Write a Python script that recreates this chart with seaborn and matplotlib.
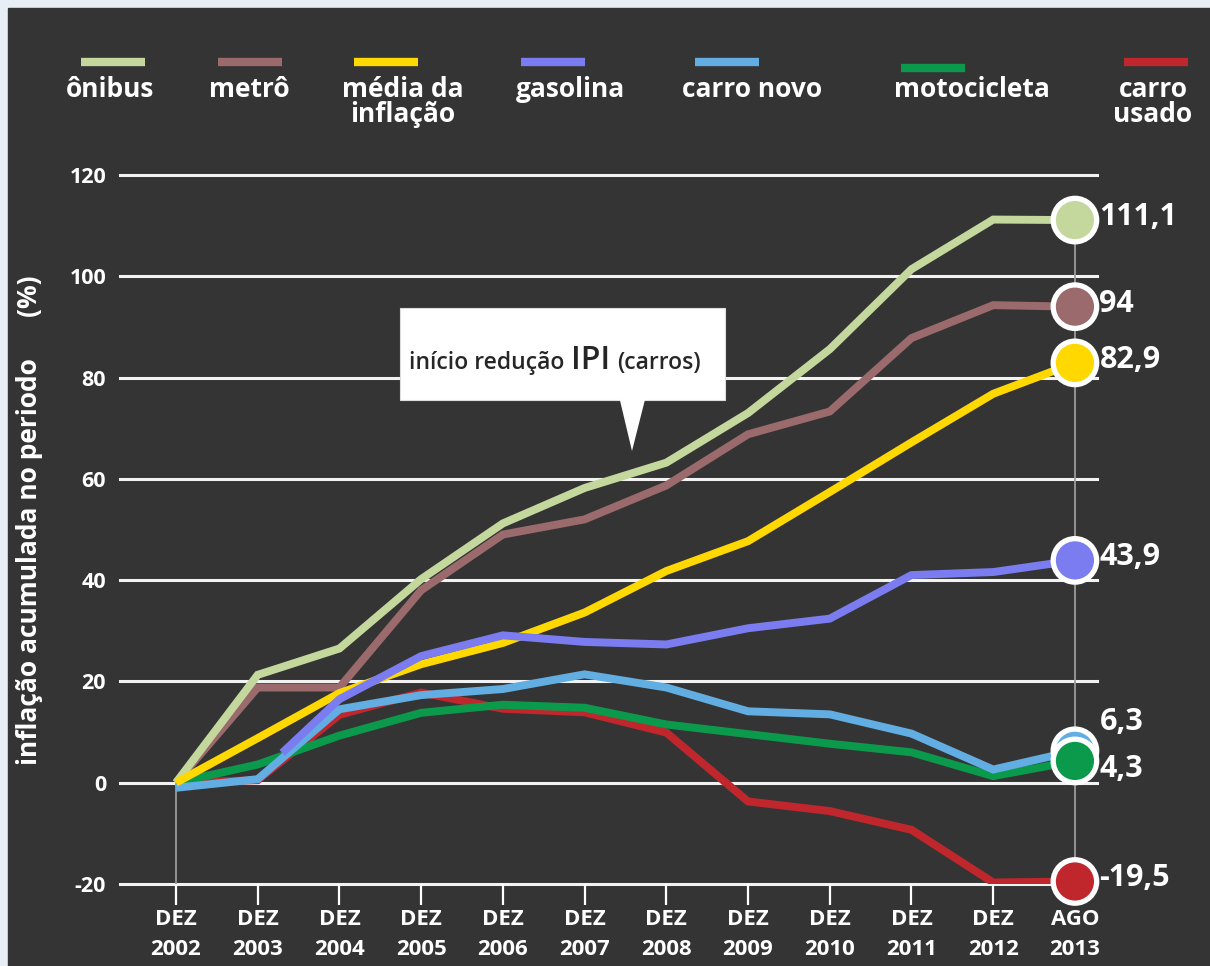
import pandas as pd
import seaborn as sns
import matplotlib.pyplot as plt
from matplotlib.lines import Line2D
from matplotlib.patches import Rectangle, Polygon

# períodos (eixo x) e séries de inflação acumulada (%)
periodos = ["DEZ\n2002", "DEZ\n2003", "DEZ\n2004", "DEZ\n2005", "DEZ\n2006", "DEZ\n2007",
            "DEZ\n2008", "DEZ\n2009", "DEZ\n2010", "DEZ\n2011", "DEZ\n2012", "AGO\n2013"]
x_periodos = list(range(len(periodos)))

onibus = [0, 21.3, 26.5, 40.2, 51.2, 58.2, 63.2, 73.0, 85.6, 101.4, 111.2, 111.1]
metro = [0, 18.8, 18.8, 38.0, 49.0, 52.0, 58.7, 68.8, 73.3, 87.8, 94.3, 94.0]
media_inflacao = [0, 8.8, 17.7, 23.4, 27.6, 33.6, 41.8, 47.7, 57.4, 67.2, 76.8, 82.9]
gasolina_x = [1.3, 2, 3, 4, 5, 6, 7, 8, 9, 10, 11]
gasolina = [5.9, 16.5, 25.0, 29.1, 27.8, 27.3, 30.5, 32.4, 41.0, 41.6, 43.9]
carro_novo = [-1.0, 0.7, 14.5, 17.3, 18.5, 21.4, 18.8, 14.1, 13.5, 9.7, 2.6, 6.3]
motocicleta = [0, 3.6, 9.3, 13.8, 15.4, 14.8, 11.5, 9.6, 7.7, 6.0, 1.3, 4.3]
carro_usado = [0, 0.5, 13.4, 17.8, 14.6, 13.9, 9.9, -3.7, -5.6, -9.3, -19.7, -19.5]

series = ["ônibus", "metrô", "média da inflação", "gasolina", "carro novo", "motocicleta", "carro usado"]
legenda = ["ônibus", "metrô", "média da\ninflação", "gasolina", "carro novo", "motocicleta", "carro\nusado"]
cores = {"ônibus": "#c4d89e", "metrô": "#9a6a6c", "média da inflação": "#ffd800",
         "gasolina": "#7a7cf0", "carro novo": "#62ade2", "motocicleta": "#0b9a4c",
         "carro usado": "#c0272d"}
valores = {"ônibus": (x_periodos, onibus), "metrô": (x_periodos, metro),
           "média da inflação": (x_periodos, media_inflacao), "gasolina": (gasolina_x, gasolina),
           "carro novo": (x_periodos, carro_novo), "motocicleta": (x_periodos, motocicleta),
           "carro usado": (x_periodos, carro_usado)}
# ordem de desenho das linhas (de baixo para cima)
ordem = ["carro usado", "motocicleta", "carro novo", "metrô", "ônibus", "média da inflação", "gasolina"]
# ordem dos marcadores finais (verde por cima do azul)
ordem_marcadores = ["ônibus", "metrô", "média da inflação", "gasolina", "carro novo", "motocicleta", "carro usado"]

linhas = []
for nome in ordem:
    xs, ys = valores[nome]
    for xv, yv in zip(xs, ys):
        linhas.append({"x": xv, "valor": yv, "serie": nome})
df = pd.DataFrame(linhas)
df_fim = df.groupby("serie", sort=False).tail(1).set_index("serie").loc[ordem_marcadores].reset_index()

fundo = "#343434"
plt.rcParams['font.family'] = ['Open Sans', 'DejaVu Sans']

fig = plt.figure(figsize=(12.1, 9.66), dpi=100)
fig.patch.set_facecolor("#e8eef6")
fig.add_artist(Rectangle((8 / 1210, 0), 1, (966 - 8) / 966, transform=fig.transFigure,
                         color=fundo, zorder=-10))
ax = fig.add_axes([120 / 1210, (966 - 884) / 966, 977 / 1210, 709 / 966])
ax.set_facecolor(fundo)

yticks = [-20, 0, 20, 40, 60, 80, 100, 120]
for yv in yticks:
    ax.axhline(yv, color="#f2f2f2", lw=2.2, zorder=1, clip_on=False)
ax.vlines(0, -20, 0, color="#9c9c9c", lw=1.3, zorder=1)
ax.vlines(x_periodos[-1], -20, max(onibus), color="#9c9c9c", lw=1.3, zorder=1)

sns.lineplot(data=df, x="x", y="valor", hue="serie", hue_order=ordem, palette=cores,
             estimator=None, linewidth=5.7, legend=False, ax=ax,
             solid_capstyle="butt", solid_joinstyle="miter")
sns.scatterplot(data=df_fim, x="x", y="valor", hue="serie", palette=cores,
                s=980, edgecolor="white", linewidth=3.8, legend=False, ax=ax,
                zorder=5, clip_on=False)

ajuste = {"carro novo": 5.0, "motocicleta": -2.2}
for _, r in df_fim.iterrows():
    txt = f"{r['valor']:g}".replace(".", ",")
    ax.text(x_periodos[-1] + 0.3, r["valor"] + 0.6 + ajuste.get(r["serie"], 0), txt,
            color="white", fontsize=22, fontweight="bold", va="center", ha="left")

ax.set_xlim(-0.685, 11.27)
ax.set_ylim(-20, 120)
ax.set_xticks(x_periodos)
ax.set_xticklabels(periodos, fontsize=16, fontweight="bold", color="white", linespacing=1.55)
ax.set_yticks(yticks)
ax.set_yticklabels([str(v) for v in yticks], fontsize=15.5, fontweight="bold", color="white")
ax.tick_params(axis="x", length=15, width=1.6, color="white", pad=3)
ax.tick_params(axis="y", length=0, pad=10)
for s in ax.spines.values():
    s.set_visible(False)
ax.set_xlabel("")
ax.set_ylabel("inflação acumulada no periodo      (%)", fontsize=19, fontweight="bold",
              color="white")
ax.yaxis.set_label_coords(-0.079, 0.513)

# caixa de anotação
ax.add_patch(Rectangle((2.74, 75.5), 3.98, 18.2, facecolor="white", edgecolor="#dddddd",
                       lw=0.8, zorder=6))
ax.add_patch(Polygon([(5.43, 75.7), (5.74, 75.7), (5.58, 65.5)], closed=True,
                     facecolor="white", edgecolor="none", zorder=6))
t1 = ax.text(2.85, 81.6, "início redução", fontsize=16.5, fontweight="semibold",
             color="#262626", va="baseline", zorder=7)
t2 = ax.annotate("IPI", xy=(1, 81.6), xycoords=(t1, "data"), xytext=(5, 0),
                 textcoords="offset points", fontsize=23, fontweight="semibold",
                 color="#262626", va="baseline", zorder=7)
ax.annotate("(carros)", xy=(1, 81.6), xycoords=(t2, "data"), xytext=(5, 0),
            textcoords="offset points", fontsize=16.5, fontweight="semibold",
            color="#262626", va="baseline", zorder=7)

# legenda superior (centros das barras e dos rótulos, em pixels)
barra_x = [113, 250, 386, 553, 727, 933, 1156]
rotulo_x = [110, 249, 403, 570, 752, 972, 1153]
for nome, rot, xb, xr in zip(series, legenda, barra_x, rotulo_x):
    yb = 904 if nome != "motocicleta" else 898
    fig.add_artist(Line2D([(xb - 32) / 1210, (xb + 32) / 1210], [yb / 966, yb / 966],
                          transform=fig.transFigure, color=cores[nome], lw=6,
                          solid_capstyle="butt"))
    fig.text(xr / 1210, 890 / 966, rot, ha="center", va="top", fontsize=19,
             fontweight="bold", color="white", linespacing=0.9)

fig.savefig("out.png", dpi=100, facecolor=fig.get_facecolor())
